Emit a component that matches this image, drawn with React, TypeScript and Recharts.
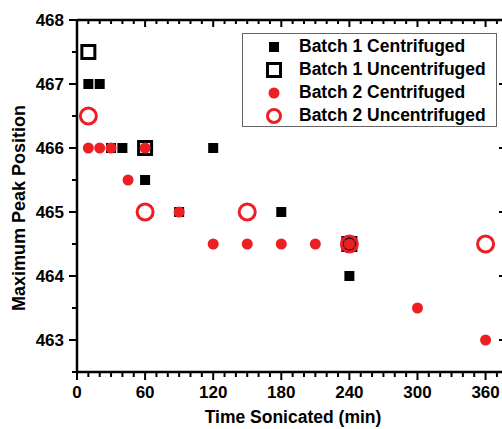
import React from 'react';
import { ScatterChart, Scatter, XAxis, YAxis, Label } from 'recharts';

// time sonicated (min) and maximum peak position
const b1CentTime = [10, 20, 30, 40, 60, 90, 120, 180, 240, 240];
const b1CentPeak = [467, 467, 466, 466, 465.5, 465, 466, 465, 464.5, 464];

const b1UncTime = [10, 60, 240];
const b1UncPeak = [467.5, 466, 464.5];

const b2CentTime = [10, 20, 30, 45, 60, 90, 120, 150, 180, 210, 240, 300, 360];
const b2CentPeak = [466, 466, 466, 465.5, 466, 465, 464.5, 464.5, 464.5, 464.5, 464.5, 463.5, 463];

const b2UncTime = [10, 60, 150, 240, 360];
const b2UncPeak = [466.5, 465, 465, 464.5, 464.5];

const xTicks = Array.from({ length: 38 }, (_, i) => i * 10);
const yTicks = [462.5, 463, 463.5, 464, 464.5, 465, 465.5, 466, 466.5, 467, 467.5, 468];

const RED = '#ed1f24';
const FONT = '"Liberation Sans", Arial, sans-serif';

const zip = (t: number[], v: number[]) => t.map((time, i) => ({ time, peak: v[i] }));

const b1Cent = zip(b1CentTime, b1CentPeak);
const b1Unc = zip(b1UncTime, b1UncPeak);
const b2Cent = zip(b2CentTime, b2CentPeak);
const b2Unc = zip(b2UncTime, b2UncPeak);

const FilledSquare = (p: any) => <rect x={p.cx - 5} y={p.cy - 5} width={10} height={10} fill="#000" />;
const OpenSquare = (p: any) => (
  <rect x={p.cx - 6.5} y={p.cy - 6.5} width={13} height={13} fill="none" stroke="#000" strokeWidth={3} />
);
const FilledCircle = (p: any) => <circle cx={p.cx} cy={p.cy} r={5.5} fill={RED} />;
const OpenCircle = (p: any) => <circle cx={p.cx} cy={p.cy} r={8} fill="none" stroke={RED} strokeWidth={3} />;

const BottomTick = (p: any) => {
  const v = p.payload.value;
  const major = v % 60 === 0;
  return (
    <g>
      <line x1={p.x} x2={p.x} y1={p.y} y2={p.y + (major ? 8 : 5)} stroke="#000" strokeWidth={2} />
      {major && (
        <text x={p.x} y={p.y + 26} textAnchor="middle" fontFamily={FONT} fontWeight="bold" fontSize={17} fill="#000">
          {v}
        </text>
      )}
    </g>
  );
};

const TopTick = (p: any) => {
  const major = p.payload.value % 60 === 0;
  return <line x1={p.x} x2={p.x} y1={p.y} y2={p.y + (major ? 7 : 4)} stroke="#000" strokeWidth={2} />;
};

const LeftTick = (p: any) => {
  const v = p.payload.value;
  const major = Number.isInteger(v);
  return (
    <g>
      <line x1={p.x} x2={p.x - (major ? 8 : 5)} y1={p.y} y2={p.y} stroke="#000" strokeWidth={2} />
      {major && (
        <text x={p.x - 13} y={p.y} dy="0.36em" textAnchor="end" fontFamily={FONT} fontWeight="bold" fontSize={17} fill="#000">
          {v}
        </text>
      )}
    </g>
  );
};

const RightTick = (p: any) => {
  const major = Number.isInteger(p.payload.value);
  return <line x1={p.x} x2={p.x - (major ? 7 : 4)} y1={p.y} y2={p.y} stroke="#000" strokeWidth={2} />;
};

const XTitle = () => (
  <text x={293} y={423} textAnchor="middle" fontFamily={FONT} fontWeight="bold" fontSize={17.5} fill="#000">
    Time Sonicated (min)
  </text>
);

const YTitle = () => (
  <text
    x={25}
    y={208}
    transform="rotate(-90 25 208)"
    textAnchor="middle"
    fontFamily={FONT}
    fontWeight="bold"
    fontSize={18}
    fill="#000"
  >
    Maximum Peak Position
  </text>
);

const legendItems = [
  { name: 'Batch 1 Centrifuged', mark: <rect x={4} y={4} width={10} height={10} fill="#000" /> },
  { name: 'Batch 1 Uncentrifuged', mark: <rect x={2.5} y={2.5} width={13} height={13} fill="none" stroke="#000" strokeWidth={3} /> },
  { name: 'Batch 2 Centrifuged', mark: <circle cx={9} cy={9} r={5.5} fill={RED} /> },
  { name: 'Batch 2 Uncentrifuged', mark: <circle cx={9} cy={9} r={6.5} fill="none" stroke={RED} strokeWidth={3} /> },
];

export default function App() {
  return (
    <div style={{ position: 'fixed', left: 0, top: 0, width: 502, height: 429, overflow: 'hidden', background: '#fff' }}>
      <ScatterChart width={513} height={429} margin={{ top: 10, right: 2, bottom: 17, left: 17 }}>
        <XAxis
          xAxisId="b"
          dataKey="time"
          type="number"
          domain={[0, 378]}
          ticks={xTicks}
          height={40}
          tickSize={0}
          tickMargin={0}
          tick={BottomTick}
          axisLine={{ stroke: '#000', strokeWidth: 2.5 }}
          interval={0}
        >
          <Label content={XTitle} />
        </XAxis>
        <XAxis
          xAxisId="t"
          dataKey="time"
          orientation="top"
          type="number"
          domain={[0, 378]}
          ticks={xTicks}
          height={10}
          tickSize={0}
          tickMargin={0}
          tick={TopTick}
          axisLine={{ stroke: '#000', strokeWidth: 2.5 }}
          interval={0}
        />
        <YAxis
          yAxisId="l"
          dataKey="peak"
          type="number"
          domain={[462.5, 468]}
          ticks={yTicks}
          width={60}
          tickSize={0}
          tickMargin={0}
          tick={LeftTick}
          axisLine={{ stroke: '#000', strokeWidth: 2.5 }}
          interval={0}
        >
          <Label content={YTitle} />
        </YAxis>
        <YAxis
          yAxisId="r"
          dataKey="peak"
          orientation="right"
          type="number"
          domain={[462.5, 468]}
          ticks={yTicks}
          width={5}
          tickSize={0}
          tickMargin={0}
          tick={RightTick}
          axisLine={{ stroke: '#000', strokeWidth: 2.5 }}
          interval={0}
        />
        <Scatter name="Batch 1 Centrifuged" data={b1Cent} xAxisId="b" yAxisId="l" shape={FilledSquare} isAnimationActive={false} />
        <Scatter name="Batch 1 Uncentrifuged" data={b1Unc} xAxisId="b" yAxisId="l" shape={OpenSquare} isAnimationActive={false} />
        <Scatter name="Batch 2 Centrifuged" data={b2Cent} xAxisId="b" yAxisId="l" shape={FilledCircle} isAnimationActive={false} />
        <Scatter name="Batch 2 Uncentrifuged" data={b2Unc} xAxisId="b" yAxisId="l" shape={OpenCircle} isAnimationActive={false} />
        <Scatter data={b2Unc} xAxisId="t" yAxisId="r" shape={() => <g />} isAnimationActive={false} legendType="none" />
      </ScatterChart>
      <div
        style={{
          position: 'absolute',
          left: 242,
          top: 33,
          width: 255,
          height: 94,
          boxSizing: 'border-box',
          border: '1px solid #666',
          paddingTop: 1,
          background: '#fff',
        }}
      >
        {legendItems.map((it) => (
          <div key={it.name} style={{ height: 23, display: 'flex', alignItems: 'center' }}>
            <svg width={18} height={18} style={{ marginLeft: 22, marginRight: 16, flex: 'none' }}>
              {it.mark}
            </svg>
            <span style={{ fontFamily: FONT, fontWeight: 'bold', fontSize: 17.5, color: '#000', whiteSpace: 'nowrap' }}>
              {it.name}
            </span>
          </div>
        ))}
      </div>
    </div>
  );
}
